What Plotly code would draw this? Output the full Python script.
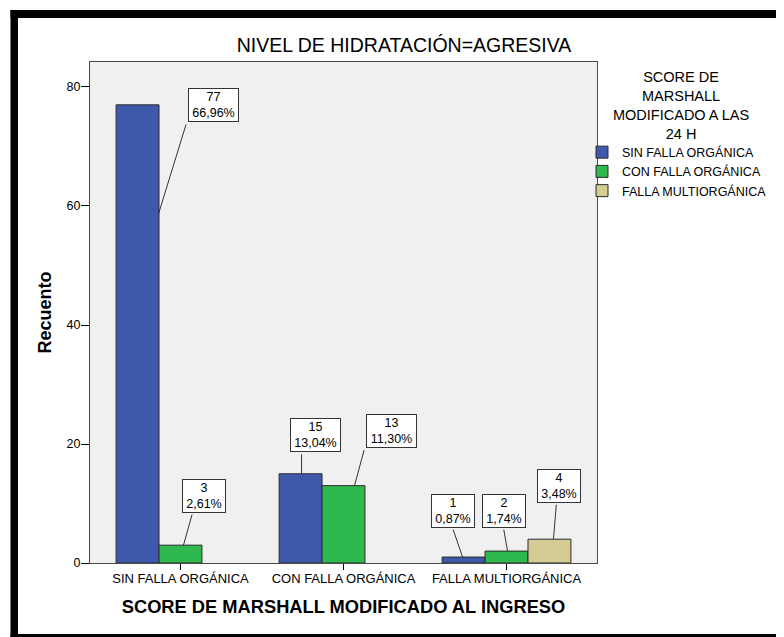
import plotly.graph_objects as go

# ---------------- data ----------------
categories = ["SIN FALLA ORGÁNICA", "CON FALLA ORGÁNICA", "FALLA MULTIORGÁNICA"]
series_names = ["SIN FALLA ORGÁNICA", "CON FALLA ORGÁNICA", "FALLA MULTIORGÁNICA"]
sin_falla = [77, 15, 1]
con_falla = [3, 13, 2]
multi_falla = [None, None, 4]
sin_falla_pct = ["66,96%", "13,04%", "0,87%"]
con_falla_pct = ["2,61%", "11,30%", "1,74%"]
multi_falla_pct = [None, None, "3,48%"]
y_ticks = [0, 20, 40, 60, 80]

title_text = "NIVEL DE HIDRATACIÓN=AGRESIVA"
x_title = "SCORE DE MARSHALL MODIFICADO AL INGRESO"
y_title = "Recuento"
legend_title_lines = ["SCORE DE", "MARSHALL", "MODIFICADO A LAS", "24 H"]

# ---------------- style ----------------
OFF = 8                                # page body margin
W, H = 784 - OFF, 637 - OFF
L, T = 90 - OFF, 62 - OFF              # plot area (screen) 90..597 x 62..563
R, B = W - (597 - OFF), H - (563 - OFF)
PW, PH = W - L - R, H - T - B
colors = ["#3E58AC", "#2EB84E", "#D4CC94"]
FONT = "Liberation Sans, Arial, sans-serif"
BARGAP = 0.21
slot = (1 - BARGAP) / 3

def px_x(p):  # screen px -> paper
    return (p - OFF - L) / PW

def px_y(p):
    return (H - B - (p - OFF)) / PH

fig = go.Figure()
all_vals = [sin_falla, con_falla, multi_falla]
all_pct = [sin_falla_pct, con_falla_pct, multi_falla_pct]
for name, vals, col in zip(series_names, all_vals, colors):
    fig.add_trace(go.Bar(
        x=list(range(len(categories))), y=vals, name=name,
        marker=dict(color=col, line=dict(color="#2b2b2b", width=1)),
        hoverinfo="skip",
    ))

# label placement in pixels, relative to the bar's top centre:
# tip = leader-line end on the bar, tail = leader-line start (relative to tip), box = label box centre
tip_shift = {(0, 0): (21, -109), (1, 0): (3, 0), (0, 1): (1, 0), (1, 1): (11, 0),
             (0, 2): (-1, 0), (1, 2): (1, 0), (2, 2): (4, 0)}
tail_off = {(0, 0): (28, -91), (1, 0): (9, -32), (0, 1): (0, -21), (1, 1): (10, -37),
            (0, 2): (-10, -29), (1, 2): (-4, -23), (2, 2): (3, -36)}
box_off = {(0, 0): (75.5, 0.5), (1, 0): (24, -49.5), (0, 1): (14.5, -38.5), (1, 1): (47.5, -55),
           (0, 2): (-10.5, -46.5), (1, 2): (-3, -40.5), (2, 2): (10, -53.5)}

annotations = []
for s, (vals, pcts) in enumerate(zip(all_vals, all_pct)):
    for c, (v, p) in enumerate(zip(vals, pcts)):
        if v is None:
            continue
        xc = c + (s - 1) * slot
        xs, ys = tip_shift[(s, c)]
        bx, by = box_off[(s, c)]
        tx, ty = tail_off[(s, c)]
        # leader line
        annotations.append(dict(
            x=xc, y=v, xref="x", yref="y", xshift=xs, yshift=ys,
            text="", showarrow=True, arrowhead=0, arrowwidth=1, arrowcolor="#333333",
            ax=tx, ay=ty, standoff=0, startstandoff=0,
        ))
        # label box
        annotations.append(dict(
            x=xc, y=v, xref="x", yref="y",
            text=f"{v}<br>{p}", showarrow=True, arrowcolor="rgba(0,0,0,0)", arrowwidth=0.1,
            ax=bx, ay=by, bgcolor="white", bordercolor="#333333", borderwidth=1, borderpad=1,
            width=7 * len(p) + 5, align="center",
            font=dict(family=FONT, size=12.5, color="#000000"),
        ))

# legend title
annotations.append(dict(
    x=px_x(681), y=px_y(67), xref="paper", yref="paper",
    text="<br>".join(legend_title_lines), showarrow=False, xanchor="center", yanchor="top",
    align="center", font=dict(family=FONT, size=14.5, color="#000000"),
))

# black frame
shapes = [
    dict(type="rect", xref="paper", yref="paper", x0=px_x(10.5), x1=px_x(18), y0=px_y(637), y1=px_y(10),
         fillcolor="black", line=dict(width=0), layer="above"),
    dict(type="rect", xref="paper", yref="paper", x0=px_x(10.5), x1=px_x(784), y0=px_y(18), y1=px_y(10),
         fillcolor="black", line=dict(width=0), layer="above"),
    dict(type="rect", xref="paper", yref="paper", x0=px_x(10.5), x1=px_x(784), y0=px_y(637), y1=px_y(634),
         fillcolor="black", line=dict(width=0), layer="above"),
]

fig.update_layout(
    width=W, height=H,
    margin=dict(l=L, r=R, t=T, b=B, pad=0),
    paper_bgcolor="white", plot_bgcolor="#F0F0F0",
    barmode="group", bargap=BARGAP, bargroupgap=0,
    font=dict(family=FONT, size=12.5, color="#000000"),
    title=dict(text=title_text, x=px_x(404), xref="paper", xanchor="center",
               y=1 - (45 - OFF) / H, yref="container", yanchor="middle",
               font=dict(family=FONT, size=19.5, color="#000000")),
    xaxis=dict(
        range=[-0.555, 2.555], tickmode="array", tickvals=list(range(len(categories))),
        ticktext=categories, ticks="outside", ticklen=6, tickcolor="#000000",
        showline=True, linecolor="#4a4a4a", linewidth=1, mirror=True, showgrid=False,
        zeroline=False, tickfont=dict(family=FONT, size=13, color="#000000"),
        ticklabelstandoff=-3,
        title=dict(text=f"<b>{x_title}</b>", standoff=15,
                   font=dict(family=FONT, size=18.3, color="#000000")),
        fixedrange=True,
    ),
    yaxis=dict(
        range=[0, 84.2], tickmode="array", tickvals=y_ticks, ticks="outside", ticklen=8,
        tickcolor="#000000", showline=True, linecolor="#4a4a4a", linewidth=1, mirror=True,
        showgrid=False, zeroline=False, tickfont=dict(family=FONT, size=12.5, color="#000000"),
        ticklabelstandoff=-2,
        title=dict(text=f"<b>{y_title}</b>", standoff=10,
                   font=dict(family=FONT, size=18, color="#000000")),
        fixedrange=True,
    ),
    legend=dict(
        x=px_x(582), y=px_y(137.5), xanchor="left", yanchor="top", xref="paper", yref="paper",
        bgcolor="rgba(0,0,0,0)", borderwidth=0, traceorder="normal",
        font=dict(family=FONT, size=12.5, color="#000000"), itemclick=False, itemdoubleclick=False,
    ),
    annotations=annotations,
    shapes=shapes,
    showlegend=True,
)

fig.write_html("out.html")
